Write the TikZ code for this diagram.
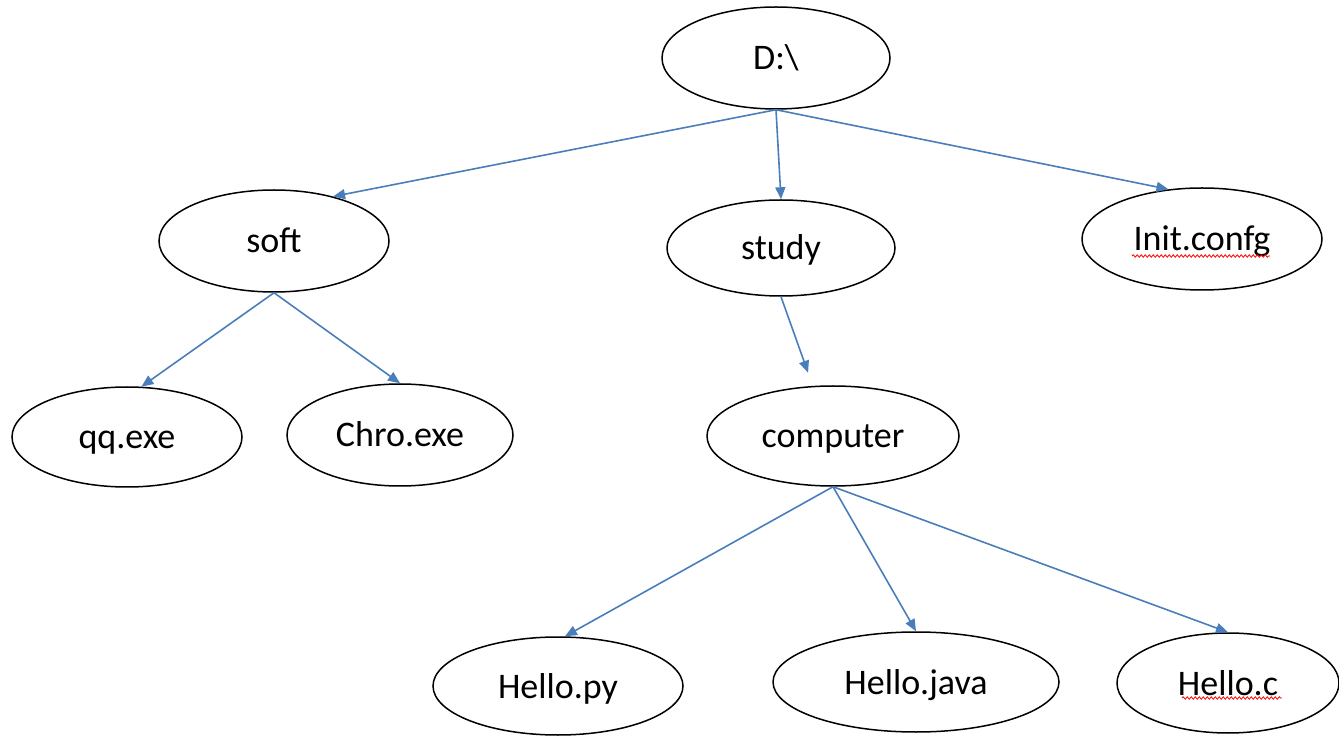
\documentclass[tikz,border=0pt]{standalone}
\usepackage{fontspec}
\setmainfont{Carlito}
\usetikzlibrary{shapes.geometric, arrows.meta, decorations.pathmorphing}
\definecolor{linkblue}{RGB}{74,126,187}

\begin{document}
\begin{tikzpicture}[
    x=0.5pt, y=-0.5pt,
    file/.style={ellipse, draw, line width=0.75pt, inner sep=0pt, text height=13pt, text depth=1pt, font=\fontsize{18}{22}\selectfont},
    arrow/.style={-{Triangle[length=6pt, width=5pt]}, line width=0.8pt, color=linkblue},
    typo/.style={red, line width=0.4pt, decorate, decoration={snake, segment length=2pt, amplitude=0.6pt}}
]
\useasboundingbox (0,0) rectangle (1339,737);

% Level 0: drive
\node[file, minimum width=114pt, minimum height=51pt] (drive) at (776,58) {D:\textbackslash};

% Level 1: folders and config
\node[file, minimum width=115pt, minimum height=51pt] (soft) at (274,241) {soft};
\node[file, minimum width=114pt, minimum height=48pt] (study) at (781,248) {study};
\node[file, minimum width=120pt, minimum height=51pt] (init) at (1202,239) {Init.confg};

\draw[arrow] (drive.south) -- (soft.37);
\draw[arrow] (drive.south) -- (study.north);
\draw[arrow] (drive.south) -- (init.124);

% Level 2: contents of soft and study
\node[file, minimum width=115pt, minimum height=50pt] (qq) at (127,437) {qq.exe};
\node[file, minimum width=113pt, minimum height=51pt] (chro) at (400,435) {Chro.exe};
\node[file, minimum width=126pt, minimum height=50pt] (computer) at (833,436) {computer};

\draw[arrow] (soft.south) -- (qq.74);
\draw[arrow] (soft.south) -- (chro.north);
\draw[arrow, shorten >=7pt] (study.south) -- (computer.112);

% Level 3: source files
\node[file, minimum width=125pt, minimum height=49pt] (hellopy) at (558,686) {Hello.py};
\node[file, minimum width=143pt, minimum height=50pt] (hellojava) at (916,682) {Hello.java};
\node[file, minimum width=111pt, minimum height=50pt] (helloc) at (1228,683) {Hello.c};

\draw[arrow] (computer.south) -- (hellopy.82);
\draw[arrow] (computer.south) -- (hellojava.north);
\draw[arrow] (computer.south) -- (helloc.north);

% spell check marks
\draw[typo] ([xshift=-35pt, yshift=-8.5pt]init.center) -- ([xshift=34pt, yshift=-8.5pt]init.center);
\draw[typo] ([xshift=-23pt, yshift=-7.5pt]helloc.center) -- ([xshift=27pt, yshift=-7.5pt]helloc.center);

\end{tikzpicture}
\end{document}
